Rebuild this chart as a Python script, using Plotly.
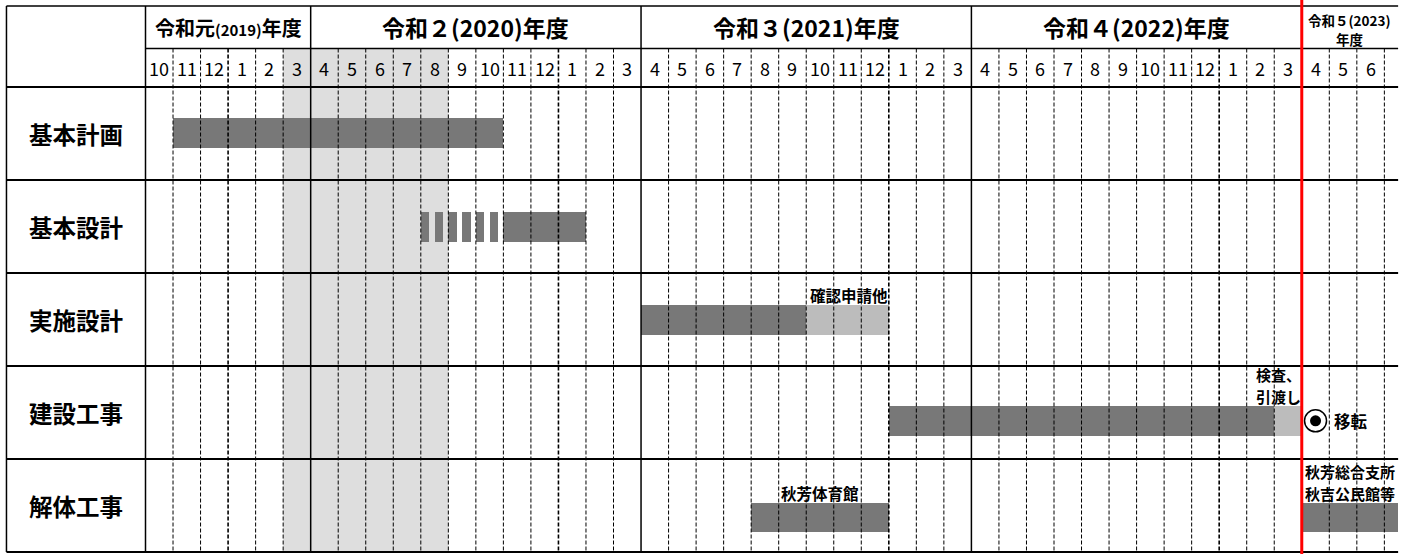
import plotly.graph_objects as go

# ---------------- data ----------------
fy_era = ["令和元", "令和２", "令和３", "令和４", "令和５"]
fy_year = ["2019", "2020", "2021", "2022", "2023"]
fy_start = [0, 6, 18, 30, 42]          # month index (0 = Oct 2019)
fy_end = [6, 18, 30, 42, 45.5]

month_labels = (["10", "11", "12", "1", "2", "3"]
                + ["4", "5", "6", "7", "8", "9", "10", "11", "12", "1", "2", "3"]
                + ["4", "5", "6", "7", "8", "9", "10", "11", "12", "1", "2", "3"]
                + ["4", "5", "6", "7", "8", "9", "10", "11", "12", "1", "2", "3"]
                + ["4", "5", "6"])

tasks = ["基本計画", "基本設計", "実施設計", "建設工事", "解体工事"]

bar_task = ["基本計画", "基本設計", "実施設計", "実施設計", "建設工事", "建設工事", "解体工事", "解体工事"]
bar_start = [1, 13, 18, 24, 27, 41, 22, 42]
bar_end = [13, 16, 24, 27, 41, 42, 27, 45.5]
bar_kind = ["main", "main", "main", "sub", "main", "sub", "main", "main"]

tent_task = ["基本設計"]
tent_start = [10]
tent_end = [13]

label_bar = [3, 5, 6, 7]                # index into bar arrays
label_lines = [["確認申請他"], ["検査、", "引渡し"], ["秋芳体育館"], ["秋芳総合支所", "秋吉公民館等"]]
label_align = ["right", "right", "center", "center"]

shade_start, shade_end = 5, 11
today_x = 42
ms_task, ms_x, ms_label = "建設工事", 42.5, "移転"

# ---------------- layout constants ----------------
FONT = "Noto Sans CJK JP"
X_RANGE = [-5.285, 46.113]
Y_RANGE = [5.0215, -0.9355]
T_LEFT, T_RIGHT = -5.05, 45.5
H_TOP, H_MID = -0.871, -0.414
lane_center = [0.495, 0.505, 0.505, 0.59, 0.63]
BAR_H = 0.32
C_MAIN, C_SUB, C_SHADE = "#787878", "#bcbcbc", "#dedede"
LINE_GAP = 21.5

n_rows = len(tasks)
n_months = len(month_labels)
row_of = {t: i for i, t in enumerate(tasks)}

fig = go.Figure()

# bars
for kind, color in [("main", C_MAIN), ("sub", C_SUB)]:
    idx = [i for i, k in enumerate(bar_kind) if k == kind]
    fig.add_trace(go.Bar(
        orientation="h",
        y=[row_of[bar_task[i]] + lane_center[row_of[bar_task[i]]] for i in idx],
        x=[bar_end[i] - bar_start[i] for i in idx],
        base=[bar_start[i] for i in idx],
        width=BAR_H, marker=dict(color=color, line=dict(width=0)),
        hoverinfo="skip", showlegend=False))

# tentative (broken) bar style
seg_step, seg_len = 0.5, 0.31
ty, tx, tb = [], [], []
for t, s, e in zip(tent_task, tent_start, tent_end):
    r = row_of[t]
    p = s
    while p < e - 1e-9:
        ty.append(r + lane_center[r]); tx.append(seg_len); tb.append(p)
        p += seg_step
fig.add_trace(go.Bar(orientation="h", y=ty, x=tx, base=tb, width=BAR_H,
                     marker=dict(color=C_MAIN, line=dict(width=0)),
                     hoverinfo="skip", showlegend=False))

# milestone
mr = row_of[ms_task]
fig.add_trace(go.Scatter(x=[ms_x], y=[mr + lane_center[mr]], mode="markers",
                         marker=dict(symbol="circle", size=22, color="white",
                                     line=dict(color="black", width=1.5)),
                         hoverinfo="skip", showlegend=False))
fig.add_trace(go.Scatter(x=[ms_x], y=[mr + lane_center[mr]], mode="markers",
                         marker=dict(symbol="circle", size=11, color="black"),
                         hoverinfo="skip", showlegend=False))

shapes = []
shapes.append(dict(type="rect", xref="x", yref="y", x0=shade_start, x1=shade_end,
                   y0=H_MID, y1=n_rows, fillcolor=C_SHADE, line_width=0, layer="below"))

fy_bounds = set(fy_start[1:])
for k in range(1, n_months + 1):
    if k in fy_bounds:
        shapes.append(dict(type="line", xref="x", yref="y", x0=k, x1=k, y0=H_TOP, y1=n_rows,
                           line=dict(color="black", width=1.5), layer="above"))
    else:
        strong = month_labels[k - 1] == "12"
        shapes.append(dict(type="line", xref="x", yref="y", x0=k, x1=k, y0=H_MID, y1=n_rows,
                           line=dict(color="black", width=1.6 if strong else 1, dash="4px,2px"),
                           layer="above"))
# structural lines
for xv in [T_LEFT, 0]:
    shapes.append(dict(type="line", xref="x", yref="y", x0=xv, x1=xv, y0=H_TOP, y1=n_rows,
                       line=dict(color="black", width=1.5), layer="above"))
shapes.append(dict(type="line", xref="x", yref="y", x0=T_LEFT, x1=T_RIGHT, y0=H_TOP, y1=H_TOP,
                   line=dict(color="black", width=1.5), layer="above"))
shapes.append(dict(type="line", xref="x", yref="y", x0=0, x1=T_RIGHT, y0=H_MID, y1=H_MID,
                   line=dict(color="black", width=1.5), layer="above"))
for r in range(n_rows + 1):
    shapes.append(dict(type="line", xref="x", yref="y", x0=T_LEFT, x1=T_RIGHT, y0=r, y1=r,
                       line=dict(color="black", width=2), layer="above"))
# today line
shapes.append(dict(type="line", xref="x", yref="paper", x0=today_x, x1=today_x, y0=0, y1=1,
                   line=dict(color="#ff0000", width=3), layer="above"))

ann = []
hdr_y = (H_TOP + H_MID) / 2
# fiscal-year headers
for i, (era, yr, s, e) in enumerate(zip(fy_era, fy_year, fy_start, fy_end)):
    xc = (s + e) / 2
    bold = dict(family=FONT, color="black", weight="bold")
    if i == len(fy_era) - 1:
        ann.append(dict(x=xc, y=hdr_y, xref="x", yref="y", text=f"{era}({yr})", showarrow=False,
                        font=dict(bold, size=13.5), xanchor="center", yanchor="middle", yshift=7.5))
        ann.append(dict(x=xc, y=hdr_y, xref="x", yref="y", text="年度", showarrow=False,
                        font=dict(bold, size=13.5), xanchor="center", yanchor="middle", yshift=-12))
        continue
    if i == 0:
        txt = (f'<span style="font-size:20px">{era}</span><span style="font-size:15px">({yr})</span>'
               f'<span style="font-size:20px">年度</span>')
    else:
        txt = f'<span style="font-size:23px">{era}({yr})年度</span>'
    ann.append(dict(x=xc, y=hdr_y, xref="x", yref="y", text=txt,
                    showarrow=False, font=bold, xanchor="center", yanchor="middle"))
# month labels
for k, m in enumerate(month_labels):
    ann.append(dict(x=k + 0.5, y=H_MID / 2, xref="x", yref="y", text=m, showarrow=False,
                    font=dict(family=FONT, size=18, color="black"), xanchor="center", yanchor="middle"))
# row labels
for r, t in enumerate(tasks):
    ann.append(dict(x=T_LEFT / 2, y=r + 0.5, xref="x", yref="y", text=t, showarrow=False,
                    font=dict(family=FONT, size=23.5, color="black", weight="bold"),
                    xanchor="center", yanchor="middle"))
# bar labels
for bi, lines, al in zip(label_bar, label_lines, label_align):
    r = row_of[bar_task[bi]]
    top = r + lane_center[r] - BAR_H / 2
    xv = bar_end[bi] if al == "right" else (bar_start[bi] + bar_end[bi]) / 2
    n = len(lines)
    fs = 15.5 if n == 1 else 15
    for j, line in enumerate(lines):
        ann.append(dict(x=xv, y=top, xref="x", yref="y", text=line, showarrow=False,
                        font=dict(family=FONT, size=fs, color="black", weight="bold"),
                        xanchor=al, yanchor="bottom", borderpad=0, yshift=(n - 1 - j) * LINE_GAP - 2))
# milestone label
ann.append(dict(x=ms_x, y=mr + lane_center[mr], xref="x", yref="y", text=ms_label, showarrow=False,
                xshift=16, font=dict(family=FONT, size=16.5, color="black", weight="bold"),
                xanchor="left", yanchor="middle"))

fig.update_layout(
    width=1415, height=554, autosize=False,
    margin=dict(l=0, r=0, t=0, b=0),
    paper_bgcolor="white", plot_bgcolor="white",
    barmode="overlay", bargap=0,
    xaxis=dict(range=X_RANGE, visible=False, fixedrange=True),
    yaxis=dict(range=Y_RANGE, visible=False, fixedrange=True),
    shapes=shapes, annotations=ann, showlegend=False,
)
fig.write_html("out.html", config={"displayModeBar": False},
               post_script="document.body.style.margin='0';document.body.style.overflow='hidden';")
